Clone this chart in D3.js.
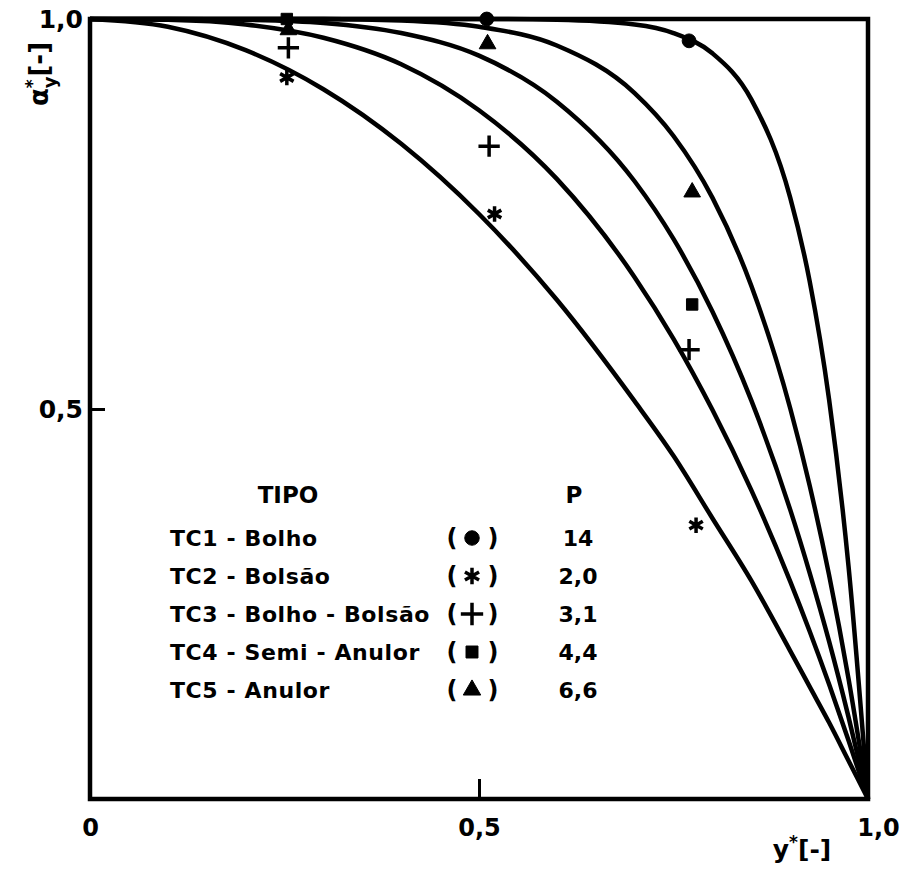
<!DOCTYPE html>
<html lang="pt">
<head>
  <meta charset="utf-8">
  <title>alfa y* versus y*</title>
  <script src="https://cdn.jsdelivr.net/npm/d3@7"></script>
  <style>
    body {
      margin: 0px;
      background: white;
    }
    svg {
      display: block;
    }
    text {
      font-family: "DejaVu Sans", sans-serif;
      font-weight: bold;
      fill: black;
    }
  </style>
</head>
<body>
  <script type="text/javascript">
    // Values
    var yStar = [0, 0.1, 0.2, 0.3, 0.4, 0.5, 0.6, 0.7, 0.75, 0.8, 0.85, 0.9, 0.925, 0.95, 0.975, 1.0];
    var alphaTC1 = [1, 1, 1, 1, 1, 1, 0.999, 0.993, 0.982, 0.956, 0.897, 0.771, 0.664, 0.512, 0.298, 0];
    var alphaTC5 = [1, 1, 1, 1, 0.998, 0.99, 0.966, 0.905, 0.85, 0.771, 0.658, 0.501, 0.402, 0.287, 0.154, 0];
    var alphaTC4 = [1, 1, 0.999, 0.995, 0.982, 0.953, 0.894, 0.792, 0.718, 0.625, 0.511, 0.371, 0.29, 0.202, 0.105, 0];
    var alphaTC3 = [1, 0.999, 0.993, 0.976, 0.942, 0.883, 0.795, 0.669, 0.59, 0.499, 0.396, 0.279, 0.215, 0.147, 0.075, 0];
    var alphaTC2 = [1, 0.99, 0.96, 0.91, 0.84, 0.75, 0.64, 0.51, 0.44, 0.36, 0.28, 0.19, 0.144, 0.098, 0.049, 0];

    // measured points [y*, alfa]
    var pointsTC1 = [[0.51, 1.0], [0.77, 0.972]];
    var pointsTC2 = [[0.253, 0.925], [0.52, 0.75], [0.779, 0.351]];
    var pointsTC3 = [[0.255, 0.963], [0.513, 0.837], [0.77, 0.576]];
    var pointsTC4 = [[0.253, 1.0], [0.774, 0.634]];
    var pointsTC5 = [[0.255, 0.986], [0.511, 0.968], [0.774, 0.778]];

    // legend
    var legendNames = ["TC1 - Bolho", "TC2 - Bolsão", "TC3 - Bolho - Bolsão", "TC4 - Semi - Anulor", "TC5 - Anulor"];
    var legendP = ["14", "2,0", "3,1", "4,4", "6,6"];
    var legendSymbols = ["circle", "asterisk", "plus", "square", "triangle"];

    var xTickValues = [0, 0.5, 1];
    var xTickLabels = ["0", "0,5", "1,0"];
    var yTickValues = [0.5, 1];
    var yTickLabels = ["0,5", "1,0"];

    var width = 902;
    var height = 873;
    var plotLeft = 90, plotRight = 868, plotTop = 19, plotBottom = 799;

    var svg = d3.select("body").append("svg")
      .attr("width", width)
      .attr("height", height);

    svg.append("rect")
      .attr("width", width)
      .attr("height", height)
      .attr("fill", "white");

    var x = d3.scaleLinear().domain([0, 1]).range([plotLeft, plotRight]);
    var y = d3.scaleLinear().domain([0, 1]).range([plotBottom, plotTop]);

    // symbol generators
    var symbolFor = {
      circle: { type: d3.symbolCircle, size: 150, fill: true },
      asterisk: { type: d3.symbolAsterisk, size: 170, fill: false },
      plus: { type: d3.symbolPlus, size: 150, fill: false },
      square: { type: d3.symbolSquare, size: 130, fill: true },
      triangle: { type: d3.symbolTriangle, size: 120, fill: true }
    };
    function drawSymbol(g, kind, cx, cy, scale) {
      var s = symbolFor[kind];
      g.append("path")
        .attr("transform", "translate(" + cx + "," + cy + ")")
        .attr("d", d3.symbol().type(s.type).size(s.size * (scale || 1))())
        .attr("fill", s.fill ? "black" : "none")
        .attr("stroke", "black")
        .attr("stroke-width", s.fill ? 1 : 3.5);
    }

    // axes (ticks drawn inwards)
    var xAxis = svg.append("g")
      .attr("transform", "translate(0," + plotBottom + ")")
      .call(d3.axisBottom(x).tickValues(xTickValues)
        .tickFormat(function (d, i) { return xTickLabels[i]; })
        .tickSizeInner(-20).tickSizeOuter(0).tickPadding(20));
    xAxis.select(".domain").remove();
    xAxis.selectAll("line").attr("stroke", "black").attr("stroke-width", 3);
    xAxis.selectAll("text").style("font-size", "24px").attr("font-family", null);
    xAxis.selectAll(".tick").filter(function (d) { return d === 1; })
      .select("text").attr("dx", 10);

    var yAxis = svg.append("g")
      .attr("transform", "translate(" + plotLeft + ",0)")
      .call(d3.axisLeft(y).tickValues(yTickValues)
        .tickFormat(function (d, i) { return yTickLabels[i]; })
        .tickSizeInner(-15).tickSizeOuter(0).tickPadding(7));
    yAxis.select(".domain").remove();
    yAxis.selectAll("line").attr("stroke", "black").attr("stroke-width", 3);
    yAxis.selectAll("text").style("font-size", "25px").attr("font-family", null);

    // frame
    svg.append("rect")
      .attr("x", plotLeft).attr("y", plotTop)
      .attr("width", plotRight - plotLeft).attr("height", plotBottom - plotTop)
      .attr("fill", "none")
      .attr("stroke", "black")
      .attr("stroke-width", 4.5);

    // curves
    var line = d3.line()
      .x(function (d) { return x(d[0]); })
      .y(function (d) { return y(d[1]); })
      .curve(d3.curveMonotoneX);

    var curves = [alphaTC1, alphaTC5, alphaTC4, alphaTC3, alphaTC2];
    svg.selectAll("path.curve")
      .data(curves)
      .enter().append("path")
      .attr("class", "curve")
      .attr("d", function (a) { return line(yStar.map(function (v, i) { return [v, a[i]]; })); })
      .attr("fill", "none")
      .attr("stroke", "black")
      .attr("stroke-width", 4.5);

    // data points
    var pts = svg.append("g");
    var pointSets = [pointsTC1, pointsTC2, pointsTC3, pointsTC4, pointsTC5];
    pointSets.forEach(function (set, k) {
      set.forEach(function (p) { drawSymbol(pts, legendSymbols[k], x(p[0]), y(p[1])); });
    });

    // axis titles
    svg.append("text")
      .attr("transform", "translate(48,74) rotate(-90)")
      .attr("text-anchor", "middle")
      .style("font-size", "26px")
      .html('α<tspan dy="-10" font-size="17">*</tspan><tspan dx="-9" dy="18" font-size="18">y</tspan><tspan dy="-8">[-]</tspan>');

    svg.append("text")
      .attr("x", 802).attr("y", 858)
      .attr("text-anchor", "middle")
      .style("font-size", "25px")
      .html('y<tspan dy="-10" font-size="17">*</tspan><tspan dy="10">[-]</tspan>');

    // legend
    var legend = svg.append("g");
    legend.append("text").attr("x", 288).attr("y", 503)
      .attr("text-anchor", "middle").style("font-size", "23px").text("TIPO");
    legend.append("text").attr("x", 574).attr("y", 503)
      .attr("text-anchor", "middle").style("font-size", "23px").text("P");

    var rowY = d3.scaleLinear().domain([0, 4]).range([546, 698]);
    legendNames.forEach(function (name, i) {
      var yy = rowY(i);
      legend.append("text").attr("x", 170).attr("y", yy)
        .style("font-size", "22px").style("letter-spacing", "0.6px").text(name);
      legend.append("text").attr("x", 452).attr("y", yy)
        .attr("text-anchor", "middle").style("font-size", "24px").text("(");
      legend.append("text").attr("x", 493).attr("y", yy)
        .attr("text-anchor", "middle").style("font-size", "24px").text(")");
      drawSymbol(legend, legendSymbols[i], 472, yy - 8, 1.1);
      legend.append("text").attr("x", 578).attr("y", yy)
        .attr("text-anchor", "middle").style("font-size", "22px").text(legendP[i]);
    });
  </script>
</body>
</html>
